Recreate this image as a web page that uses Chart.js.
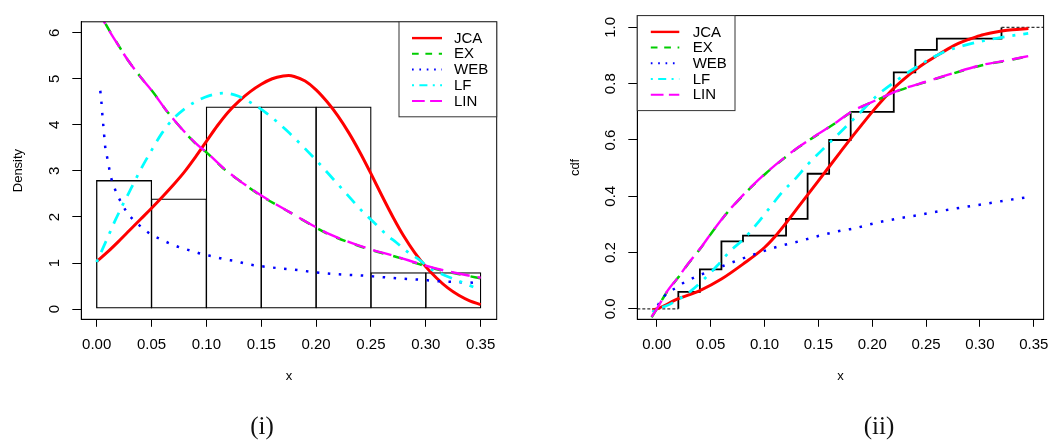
<!DOCTYPE html>
<html>
<head>
<meta charset="utf-8">
<script src="https://cdn.jsdelivr.net/npm/chart.js@4"></script>
<style>
  html, body { margin: 0; padding: 0; background: #fff; }
  #wrap { position: relative; width: 1058px; height: 441px; overflow: hidden; background: #fff; }
  canvas { position: absolute; top: 0; }
  #pdfChart { left: 0; }
  #cdfChart { left: 529px; }
  .cap { position: absolute; top: 413px; font-family: "Liberation Serif", serif; font-size: 25px;
         line-height: 25px; color: #111; transform: translateX(-50%); white-space: nowrap; }
</style>
</head>
<body>
<div id="wrap">
  <canvas id="pdfChart" width="529" height="441"></canvas>
  <canvas id="cdfChart" width="529" height="441"></canvas>
  <div class="cap" style="left:262px">(i)</div>
  <div class="cap" style="left:879px">(ii)</div>
</div>
<script>
// ---------- axis ticks ----------
const xTicks = [0, 0.05, 0.10, 0.15, 0.20, 0.25, 0.30, 0.35];
const xTickLabels = ['0.00', '0.05', '0.10', '0.15', '0.20', '0.25', '0.30', '0.35'];
const densTicks = [0, 1, 2, 3, 4, 5, 6];
const densTickLabels = ['0', '1', '2', '3', '4', '5', '6'];
const cdfTicks = [0, 0.2, 0.4, 0.6, 0.8, 1.0];
const cdfTickLabels = ['0.0', '0.2', '0.4', '0.6', '0.8', '1.0'];

const seriesNames = ['JCA', 'EX', 'WEB', 'LF', 'LIN'];

// ---------- histogram of the sample ----------
const histBreaks = [0, 0.05, 0.10, 0.15, 0.20, 0.25, 0.30, 0.35];
const histDensity = [2.8, 2.4, 4.4, 4.4, 4.4, 0.8, 0.8];

// ---------- fitted densities ----------
const jcaPdfX = [0, 0.01, 0.02, 0.03, 0.04, 0.05, 0.06, 0.07, 0.08, 0.09, 0.10, 0.11, 0.12, 0.13, 0.14, 0.15, 0.16, 0.17, 0.175, 0.18, 0.19, 0.20, 0.21, 0.22, 0.23, 0.24, 0.25, 0.26, 0.27, 0.28, 0.29, 0.30, 0.31, 0.32, 0.33, 0.34, 0.35];
const jcaPdfY = [1.03, 1.24, 1.47, 1.71, 1.95, 2.19, 2.44, 2.70, 2.98, 3.30, 3.64, 3.98, 4.28, 4.52, 4.72, 4.88, 5.00, 5.06, 5.07, 5.05, 4.95, 4.76, 4.50, 4.19, 3.82, 3.40, 2.94, 2.46, 2.00, 1.58, 1.22, 0.92, 0.67, 0.46, 0.30, 0.18, 0.10];

const exPdfX = [0, 0.0079, 0.017, 0.0292, 0.0413, 0.052, 0.0626, 0.0747, 0.0899, 0.1021, 0.1142, 0.1294, 0.1504, 0.1762, 0.2005, 0.2127, 0.2309, 0.2506, 0.2734, 0.2947, 0.3129, 0.3342, 0.35];
const exPdfY = [6.58, 6.20, 5.84, 5.38, 5.00, 4.69, 4.34, 3.99, 3.60, 3.36, 3.08, 2.80, 2.45, 2.10, 1.76, 1.61, 1.44, 1.28, 1.13, 0.97, 0.85, 0.74, 0.67];

const webPdfX = [0.0033, 0.0042, 0.0055, 0.0064, 0.0079, 0.0097, 0.013, 0.0155, 0.0191, 0.0276, 0.0337, 0.0413, 0.0489, 0.058, 0.0671, 0.0768, 0.0869, 0.0966, 0.1066, 0.1167, 0.127, 0.1367, 0.157, 0.1783, 0.1993, 0.2202, 0.2415, 0.2521, 0.2734, 0.2931, 0.3145, 0.3357, 0.3464];
const webPdfY = [4.74, 4.53, 4.13, 3.90, 3.50, 3.28, 2.87, 2.68, 2.47, 2.10, 1.93, 1.77, 1.63, 1.52, 1.42, 1.33, 1.26, 1.19, 1.14, 1.08, 1.04, 0.98, 0.91, 0.86, 0.80, 0.755, 0.73, 0.71, 0.67, 0.64, 0.60, 0.58, 0.57];

const lfPdfX = [0, 0.0094, 0.017, 0.0237, 0.0316, 0.0413, 0.0489, 0.0595, 0.0686, 0.0808, 0.0899, 0.1021, 0.1158, 0.1294, 0.146, 0.155, 0.173, 0.2005, 0.2172, 0.2263, 0.243, 0.2537, 0.2643, 0.2734, 0.284, 0.2947, 0.3038, 0.3175, 0.3311, 0.3433];
const lfPdfY = [1.02, 1.52, 1.93, 2.26, 2.63, 3.08, 3.40, 3.82, 4.10, 4.36, 4.50, 4.63, 4.69, 4.62, 4.40, 4.25, 3.88, 3.22, 2.78, 2.54, 2.10, 1.86, 1.61, 1.44, 1.23, 1.06, 0.88, 0.73, 0.60, 0.48];

const linPdfX = [0, 0.0079, 0.017, 0.0292, 0.0413, 0.052, 0.0626, 0.0747, 0.0899, 0.1021, 0.1142, 0.1294, 0.1504, 0.1762, 0.2005, 0.2127, 0.2309, 0.2506, 0.2734, 0.2947, 0.3129, 0.3342, 0.35];
const linPdfY = [6.56, 6.19, 5.83, 5.38, 5.00, 4.69, 4.34, 3.99, 3.61, 3.36, 3.09, 2.80, 2.46, 2.10, 1.77, 1.62, 1.45, 1.29, 1.14, 0.98, 0.86, 0.75, 0.68];

// ---------- empirical and fitted distribution functions ----------
const ecdfX = [0.02, 0.04, 0.06, 0.08, 0.12, 0.14, 0.16, 0.18, 0.22, 0.24, 0.26, 0.32];
const ecdfY = [0.06, 0.14, 0.24, 0.26, 0.32, 0.48, 0.60, 0.70, 0.84, 0.92, 0.96, 1.00];

const jcaCdfX = [-0.004, 0, 0.02, 0.04, 0.06, 0.08, 0.10, 0.11, 0.12, 0.13, 0.14, 0.15, 0.16, 0.17, 0.18, 0.19, 0.20, 0.21, 0.22, 0.23, 0.24, 0.25, 0.26, 0.27, 0.28, 0.29, 0.30, 0.31, 0.32, 0.33, 0.345];
const jcaCdfY = [-0.004, 0, 0.036, 0.065, 0.106, 0.159, 0.218, 0.258, 0.305, 0.355, 0.405, 0.455, 0.505, 0.555, 0.605, 0.653, 0.700, 0.744, 0.784, 0.818, 0.849, 0.876, 0.900, 0.923, 0.943, 0.958, 0.971, 0.980, 0.987, 0.992, 0.996];

const exCdfX = [-0.0048, 0, 0.0094, 0.02, 0.029, 0.041, 0.053, 0.065, 0.0773, 0.0893, 0.1014, 0.1165, 0.1316, 0.1497, 0.1678, 0.1805, 0.2045, 0.2257, 0.2498, 0.274, 0.3011, 0.3253, 0.3448];
const exCdfY = [-0.03, 0, 0.060, 0.112, 0.159, 0.217, 0.281, 0.340, 0.392, 0.439, 0.482, 0.530, 0.574, 0.620, 0.665, 0.699, 0.742, 0.777, 0.806, 0.835, 0.865, 0.882, 0.897];

const webCdfX = [0.001, 0.0027, 0.0094, 0.0178, 0.026, 0.035, 0.054, 0.0733, 0.0923, 0.1122, 0.1321, 0.152, 0.1726, 0.182, 0.203, 0.2226, 0.2438, 0.264, 0.2845, 0.305, 0.3253, 0.345];
const webCdfY = [0.012, 0.0245, 0.054, 0.075, 0.095, 0.112, 0.141, 0.170, 0.196, 0.221, 0.240, 0.261, 0.279, 0.285, 0.305, 0.320, 0.334, 0.348, 0.361, 0.373, 0.386, 0.397];

const lfCdfX = [-0.004, 0, 0.0079, 0.02, 0.032, 0.044, 0.056, 0.068, 0.080, 0.0923, 0.1044, 0.1165, 0.1285, 0.1406, 0.1557, 0.1678, 0.1768, 0.1895, 0.2045, 0.2257, 0.2438, 0.265, 0.289, 0.3192, 0.3448];
const lfCdfY = [-0.012, 0, 0.0095, 0.033, 0.065, 0.106, 0.153, 0.205, 0.246, 0.299, 0.357, 0.415, 0.462, 0.515, 0.573, 0.618, 0.652, 0.700, 0.758, 0.820, 0.866, 0.910, 0.940, 0.964, 0.979];

const linCdfX = [-0.0048, 0, 0.0094, 0.02, 0.029, 0.041, 0.053, 0.065, 0.0773, 0.0893, 0.1014, 0.1165, 0.1316, 0.1497, 0.1678, 0.1805, 0.2045, 0.2257, 0.2498, 0.274, 0.3011, 0.3253, 0.3448];
const linCdfY = [-0.028, 0, 0.061, 0.113, 0.160, 0.218, 0.282, 0.341, 0.393, 0.440, 0.483, 0.531, 0.575, 0.621, 0.666, 0.700, 0.743, 0.778, 0.807, 0.836, 0.866, 0.883, 0.898];

// ---------- styling ----------
Chart.defaults.font.family = '"Liberation Sans", Arial, sans-serif';
Chart.defaults.color = '#000';

const lineStyles = {
  JCA: { color: '#FF0000', width: 3,    dash: [] },
  EX:  { color: '#00CD00', width: 2.5,  dash: [10, 10] },
  WEB: { color: '#0000FF', width: 2.5,  dash: [2.5, 8.5] },
  LF:  { color: '#00FFFF', width: 2.75, dash: [3, 8, 12, 8] },
  LIN: { color: '#FF00FF', width: 2.4,  dash: [19, 8] }
};
const drawOrder = { JCA: 5, EX: 4, WEB: 3, LF: 2, LIN: 1 };

const toPoints = (xs, ys) => xs.map((x, i) => ({ x, y: ys[i] }));

function curve(name, xs, ys) {
  const s = lineStyles[name];
  return {
    type: 'line', label: name, data: toPoints(xs, ys),
    borderColor: s.color, borderWidth: s.width, borderDash: s.dash,
    borderCapStyle: 'butt', borderJoinStyle: 'round',
    pointRadius: 0, cubicInterpolationMode: 'monotone', fill: false, clip: 0,
    order: drawOrder[name]
  };
}

// frame around the plotting region
const framePlugin = {
  id: 'frame',
  afterDatasetsDraw(chart) {
    const a = chart.chartArea, ctx = chart.ctx;
    ctx.save();
    ctx.strokeStyle = '#000';
    ctx.lineWidth = 1;
    ctx.strokeRect(a.left, a.top, a.right - a.left, a.bottom - a.top);
    ctx.restore();
  }
};

// boxed key drawn inside a corner of the plotting region
const keyPlugin = {
  id: 'keyBox',
  afterDatasetsDraw(chart, args, o) {
    const a = chart.chartArea, ctx = chart.ctx;
    const left = o.corner === 'right' ? a.right - o.width : a.left;
    const top = a.top;
    ctx.save();
    ctx.fillStyle = '#fff';
    ctx.fillRect(left, top, o.width, o.height);
    ctx.strokeStyle = '#333';
    ctx.lineWidth = 1;
    ctx.strokeRect(left, top, o.width, o.height);
    seriesNames.forEach((name, i) => {
      const ds = chart.data.datasets.find(d => d.label === name);
      const y = top + o.firstRow + i * o.rowGap;
      ctx.beginPath();
      ctx.setLineDash((ds.borderDash || []).map(v => v * 0.67));
      ctx.strokeStyle = ds.borderColor;
      ctx.lineWidth = name === 'JCA' ? 2.4 : 2;
      ctx.moveTo(left + o.lineStart, y);
      ctx.lineTo(left + o.lineStart + o.lineLen, y);
      ctx.stroke();
      ctx.setLineDash([]);
      ctx.fillStyle = '#000';
      ctx.font = '15px "Liberation Sans", Arial, sans-serif';
      ctx.textAlign = 'left';
      ctx.textBaseline = 'middle';
      ctx.fillText(name, left + o.textStart, y + 0.5);
    });
    ctx.restore();
  }
};

function xAxis(min, max) {
  return {
    type: 'linear', min, max, bounds: 'data', offset: false,
    afterBuildTicks: s => { s.ticks = xTicks.map(v => ({ value: v })); },
    afterFit: s => { s.height = 121.7; },
    ticks: { callback: (v, i) => xTickLabels[i], autoSkip: false, maxRotation: 0, minRotation: 0,
             padding: 9.5, color: '#000', font: { size: 15 } },
    grid: { drawOnChartArea: false, drawTicks: true, tickLength: 7.5, color: '#000', lineWidth: 1, offset: false },
    border: { display: true, color: '#000', width: 1 },
    title: { display: true, text: 'x', color: '#000', font: { size: 13 }, padding: { top: 0, bottom: 57.2 } }
  };
}

function yAxis(min, max, tickVals, tickLabels, title, titlePad, width, labelPad) {
  return {
    type: 'linear', min, max, bounds: 'data',
    afterBuildTicks: s => { s.ticks = tickVals.map(v => ({ value: v })); },
    afterFit: s => { s.width = width; },
    ticks: { callback: (v, i) => tickLabels[i], autoSkip: false, minRotation: 90, maxRotation: 90,
             crossAlign: 'center', padding: labelPad, color: '#000', font: { size: 15 } },
    grid: { drawOnChartArea: false, drawTicks: true, tickLength: 9, color: '#000', lineWidth: 1 },
    border: { display: true, color: '#000', width: 1 },
    title: { display: true, text: title, color: '#000', font: { size: 13 }, padding: { top: titlePad, bottom: 0 } }
  };
}

const commonPlugins = { legend: { display: false }, tooltip: { enabled: false } };

// ---------- (i) histogram with fitted densities ----------
const histMid = histDensity.map((_, i) => (histBreaks[i] + histBreaks[i + 1]) / 2);

new Chart(document.getElementById('pdfChart'), {
  type: 'line',
  data: {
    datasets: [
      {
        // bars are widened by about one pixel so neighbouring outlines fall on one line
        type: 'bar', label: 'histogram', data: toPoints(histMid, histDensity),
        backgroundColor: 'rgba(255,255,255,0)', borderColor: '#000', borderWidth: 1.3,
        borderSkipped: false, barPercentage: 1.022, categoryPercentage: 1, order: 10
      },
      curve('JCA', jcaPdfX, jcaPdfY),
      curve('EX', exPdfX, exPdfY),
      curve('WEB', webPdfX, webPdfY),
      curve('LF', lfPdfX, lfPdfY),
      curve('LIN', linPdfX, linPdfY)
    ]
  },
  options: {
    responsive: false, animation: false, events: [],
    layout: { padding: { top: 11, right: 32.3, bottom: 0, left: 0 } },
    scales: {
      x: xAxis(-0.014, 0.3646),
      y: yAxis(-0.222, 6.237, densTicks, densTickLabels, 'Density', 10.2, 81.3, 12.8)
    },
    plugins: Object.assign({}, commonPlugins, {
      keyBox: { corner: 'right', width: 97.7, height: 95, firstRow: 16.3, rowGap: 15.7,
                lineStart: 13, lineLen: 30, textStart: 55 }
    })
  },
  plugins: [framePlugin, keyPlugin]
});

// ---------- (ii) empirical and fitted cdfs ----------
const cdfXMin = -0.0181, cdfXMax = 0.3591;
const ecdfPts = [{ x: cdfXMin, y: 0 }, { x: ecdfX[0], y: 0 }]
  .concat(toPoints(ecdfX, ecdfY))
  .concat([{ x: cdfXMax, y: ecdfY[ecdfY.length - 1] }]);
const lastEcdf = ecdfPts.length - 1;
const isTail = c => c.p0DataIndex === 0 || c.p1DataIndex === lastEcdf;

new Chart(document.getElementById('cdfChart'), {
  type: 'line',
  data: {
    datasets: [
      {
        type: 'line', label: 'ecdf', data: ecdfPts, stepped: 'before',
        borderColor: '#000', borderWidth: 1.8, pointRadius: 0, fill: false, clip: 0, order: 10,
        segment: {
          borderDash: c => isTail(c) ? [3, 2] : undefined,
          borderColor: c => isTail(c) ? '#333' : undefined,
          borderWidth: c => isTail(c) ? 1.4 : undefined
        }
      },
      curve('JCA', jcaCdfX, jcaCdfY),
      curve('EX', exCdfX, exCdfY),
      curve('WEB', webCdfX, webCdfY),
      curve('LF', lfCdfX, lfCdfY),
      curve('LIN', linCdfX, linCdfY)
    ]
  },
  options: {
    responsive: false, animation: false, events: [],
    layout: { padding: { top: 11, right: 4, bottom: 0, left: 0 } },
    scales: {
      x: xAxis(cdfXMin, cdfXMax),
      y: yAxis(-0.0371, 1.042, cdfTicks, cdfTickLabels, 'cdf', 38.2, 108.3, 6.6)
    },
    plugins: Object.assign({}, commonPlugins, {
      keyBox: { corner: 'left', width: 97.7, height: 95, firstRow: 16.3, rowGap: 15.7,
                lineStart: 13.5, lineLen: 28.5, textStart: 55.4 }
    })
  },
  plugins: [framePlugin, keyPlugin]
});
</script>
</body>
</html>
